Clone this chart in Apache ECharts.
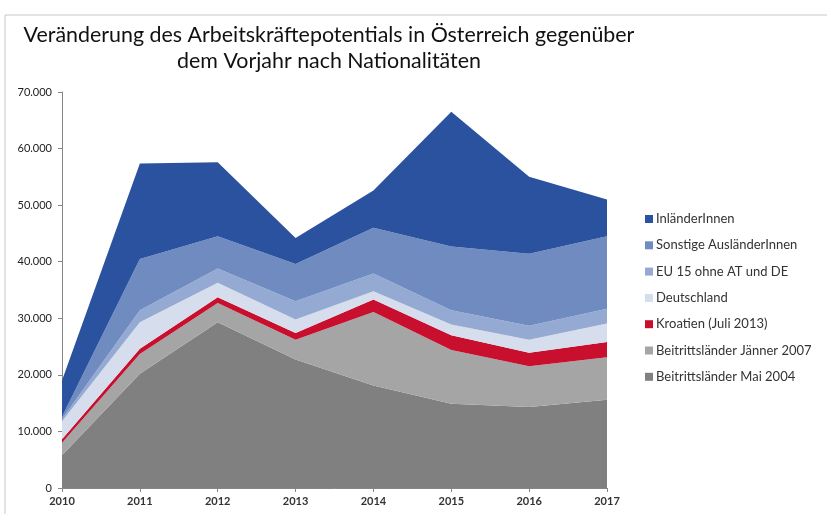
<!DOCTYPE html>
<html>
<head>
<meta charset="utf-8">
<script src="https://cdn.jsdelivr.net/npm/echarts@6/dist/echarts.min.js"></script>
<style>
  html, body { margin: 0; padding: 0; background: #fff; }
  #chart { width: 827px; height: 514px; }
</style>
</head>
<body>
<div id="chart"></div>
<script>
const years = ["2010", "2011", "2012", "2013", "2014", "2015", "2016", "2017"];
const yTicks = [0, 10000, 20000, 30000, 40000, 50000, 60000, 70000];

// stacked increments, bottom to top
const mai2004 = [5800, 20200, 29300, 22700, 18100, 14900, 14300, 15600];
const jaenner2007 = [2200, 3500, 3400, 3500, 13000, 9500, 7200, 7500];
const kroatien = [600, 900, 1000, 1200, 2200, 2600, 2400, 2700];
const deutschland = [3200, 4700, 2600, 2400, 1500, 1900, 2300, 3300];
const eu15 = [400, 2100, 2500, 3200, 3100, 2500, 2500, 2600];
const sonstige = [400, 9100, 5700, 6600, 8100, 11300, 12700, 12800];
const inlaender = [6400, 16850, 13100, 4600, 6600, 23800, 13600, 6500];

const chart = echarts.init(document.getElementById("chart"));

const area = (name, data, color) => ({
  name: name,
  type: "line",
  stack: "total",
  data: data,
  showSymbol: false,
  lineStyle: { width: 0 },
  areaStyle: { color: color, opacity: 1 },
  itemStyle: { color: color },
});

const fmt = (v) => String(v).replace(/\B(?=(\d{3})+(?!\d))/g, ".");

chart.setOption({
  animation: false,
  textStyle: { fontFamily: "Lato" },
  title: {
    text: "Veränderung des Arbeitskräftepotentials in Österreich gegenüber\ndem Vorjahr nach Nationalitäten",
    left: 324,
    top: 17,
    textAlign: "center",
    textStyle: {
      fontFamily: "Lato",
      fontWeight: "normal",
      fontSize: 21.4,
      lineHeight: 26,
      color: "#111",
    },
  },
  graphic: [
    {
      type: "polyline",
      shape: { points: [[5, 514], [5, 15], [827, 15]] },
      style: { stroke: "#c8c8c8", lineWidth: 1, fill: null },
    },
  ],
  legend: {
    orient: "vertical",
    left: 640,
    top: 207,
    itemWidth: 8,
    itemHeight: 8,
    itemGap: 12.3,
    icon: "rect",
    data: [
      "InländerInnen",
      "Sonstige AusländerInnen",
      "EU 15 ohne AT und DE",
      "Deutschland",
      "Kroatien (Juli 2013)",
      "Beitrittsländer Jänner 2007",
      "Beitrittsländer Mai 2004",
    ],
    textStyle: { fontFamily: "Lato", fontSize: 13, lineHeight: 14, color: "#333", padding: [0, 0, 0, -2] },
  },
  grid: { left: 62, right: 220, top: 92, bottom: 26 },
  xAxis: {
    type: "category",
    data: years,
    boundaryGap: false,
    axisLine: { lineStyle: { color: "#868686" } },
    axisTick: { show: true, length: 4, lineStyle: { color: "#868686" } },
    axisLabel: { fontSize: 11, color: "#333", fontWeight: "bold", margin: 8 },
  },
  yAxis: {
    type: "value",
    min: yTicks[0],
    max: yTicks[yTicks.length - 1],
    interval: 10000,
    splitLine: { show: false },
    axisLine: { show: true, lineStyle: { color: "#868686" } },
    axisTick: { show: true, length: 4, lineStyle: { color: "#868686" } },
    axisLabel: { fontSize: 11, color: "#222", margin: 10, formatter: fmt },
  },
  series: [
    area("Beitrittsländer Mai 2004", mai2004, "#808080"),
    area("Beitrittsländer Jänner 2007", jaenner2007, "#a5a5a5"),
    area("Kroatien (Juli 2013)", kroatien, "#c8102e"),
    area("Deutschland", deutschland, "#d6deee"),
    area("EU 15 ohne AT und DE", eu15, "#95aad3"),
    area("Sonstige AusländerInnen", sonstige, "#6f8bc0"),
    area("InländerInnen", inlaender, "#2b529f"),
  ],
});
</script>
</body>
</html>
